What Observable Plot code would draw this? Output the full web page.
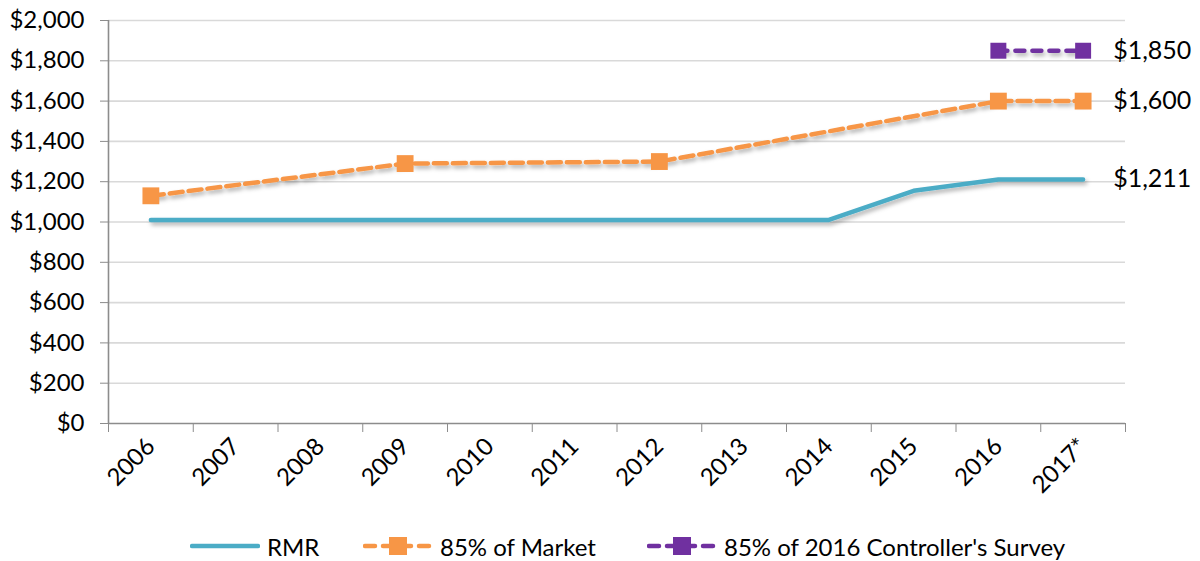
<!DOCTYPE html>
<html><head><meta charset="utf-8">
<script src="https://cdn.jsdelivr.net/npm/d3@7"></script>
<script src="https://cdn.jsdelivr.net/npm/@observablehq/plot@0.6"></script>
<style>
body{margin:0;background:#fff;font-family:Lato,"Open Sans",sans-serif;}
#chart{width:1200px;height:515px;}
#legend{width:1200px;height:46px;position:relative;font-size:24px;color:#000;}
.item{position:absolute;top:17px;display:flex;align-items:center;height:28px;white-space:nowrap;}
.item svg{margin-right:7px;}
</style></head><body>
<div id="chart"></div>
<div id="legend"></div>
<script>
const years = ["2006","2007","2008","2009","2010","2011","2012","2013","2014","2015","2016","2017*"];
const rmr = [1010,1010,1010,1010,1010,1010,1010,1010,1010,1155,1211,1211];
const market = [1130,null,null,1290,null,null,1300,null,null,null,1600,1600];
const survey = [null,null,null,null,null,null,null,null,null,null,1850,1850];
const seriesNames = ["RMR","85% of Market","85% of 2016 Controller's Survey"];
const seriesColors = ["#4BACC6","#F79646","#7030A0"];
const yTicks = d3.range(0, 2001, 200);

const toRows = (vals, name) => vals.map((v,i)=>({i, year: years[i], value: v, series: name})).filter(d => d.value != null);
const rmrRows = toRows(rmr, seriesNames[0]);
const marketRows = toRows(market, seriesNames[1]);
const surveyRows = toRows(survey, seriesNames[2]);
const last = years.length - 1;
const endRows = [...rmrRows, ...marketRows, ...surveyRows].filter(d => d.i === last);

const money = d => "$" + d3.format(",")(d);
const gray = "#8c8c8c";

const chart = Plot.plot({
  width: 1200, height: 515,
  marginLeft: 108, marginRight: 75, marginTop: 20, marginBottom: 92,
  style: {fontFamily: "Lato, 'Open Sans', sans-serif", fontSize: "24px", color: "#000", background: "#fff"},
  x: {type: "linear", domain: [-0.5, years.length - 0.5]},
  y: {domain: [0, 2000]},
  marks: [
    Plot.gridY(yTicks.filter(d => d > 0), {stroke: "#d9d9d9", strokeOpacity: 1, strokeWidth: 1.6}),
    Plot.ruleX([-0.5], {stroke: gray, strokeWidth: 1.6}),
    Plot.ruleY([0], {stroke: gray, strokeWidth: 1.6}),
    Plot.axisY({ticks: yTicks, tickSize: 8, tickPadding: 16, tickFormat: money, stroke: gray, fill: "#000", label: null, fontSize: 24}),
    Plot.axisX({ticks: d3.range(years.length + 1).map(i => i - 0.5), tickSize: 9, tickFormat: () => "", stroke: gray, label: null}),
    Plot.axisX({ticks: d3.range(years.length), tickSize: 0, tickPadding: 19, tickRotate: -45, tickFormat: i => years[i], fill: "#000", label: null, fontSize: 24}),
    Plot.line(rmrRows, {x: "i", y: "value", stroke: seriesColors[0], strokeWidth: 4.5}),
    Plot.line(marketRows, {x: "i", y: "value", stroke: seriesColors[1], strokeWidth: 4.5, strokeDasharray: "13,6"}),
    Plot.dot(marketRows, {x: "i", y: "value", symbol: "square", r: 9.5, fill: seriesColors[1], stroke: "none"}),
    Plot.line(surveyRows, {x: "i", y: "value", stroke: seriesColors[2], strokeWidth: 4.5, strokeDasharray: "9,8", strokeLinecap: "round"}),
    Plot.dot(surveyRows, {x: "i", y: "value", symbol: "square", r: 9, fill: seriesColors[2], stroke: "none"}),
    Plot.text(endRows, {x: "i", y: "value", text: d => money(d.value), dx: 30, textAnchor: "start", fontSize: 25, fill: "#000"})
  ]
});
document.getElementById("chart").appendChild(chart);

// subtle Excel-like shadow
const svg = d3.select(chart);
const defs = svg.insert("defs", ":first-child");
const f = defs.append("filter").attr("id", "shadow").attr("filterUnits", "userSpaceOnUse")
  .attr("x", 0).attr("y", 0).attr("width", 1200).attr("height", 515);
f.append("feDropShadow").attr("dx", 2).attr("dy", 3).attr("stdDeviation", 2).attr("flood-color", "#000").attr("flood-opacity", 0.3);
svg.selectAll('g[aria-label="line"]').attr("filter", "url(#shadow)");

// legend
const legend = d3.select("#legend");
const items = [
  {name: seriesNames[0], color: seriesColors[0], dash: null, marker: false, left: 190},
  {name: seriesNames[1], color: seriesColors[1], dash: "10,8", marker: true, left: 363},
  {name: seriesNames[2], color: seriesColors[2], dash: "10,8", marker: true, left: 647}
];
items.forEach(it => {
  const div = legend.append("div").attr("class", "item").style("left", it.left + "px");
  const s = div.append("svg").attr("width", 70).attr("height", 24);
  s.append("line").attr("x1", 2).attr("x2", 68).attr("y1", 12).attr("y2", 12)
    .attr("stroke", it.color).attr("stroke-width", 4.5)
    .attr("stroke-dasharray", it.dash).attr("stroke-linecap", "round");
  if (it.marker) s.append("rect").attr("x", 26).attr("y", 3).attr("width", 18).attr("height", 18).attr("fill", it.color);
  div.append("span").text(it.name);
});
</script></body></html>
